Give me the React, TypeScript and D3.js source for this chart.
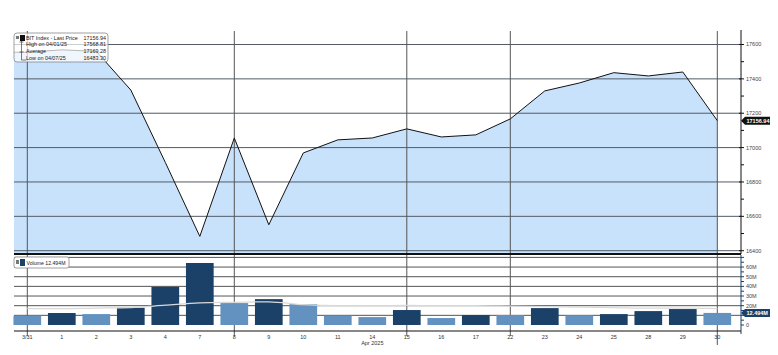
import * as d3 from 'd3';

// trading days shown on the x axis (April 2025)
const days = ['3/31', '1', '2', '3', '4', '7', '8', '9', '10', '11', '14', '15', '16', '17', '22', '23', '24', '25', '28', '29', '30'];
const gridDays = ['3/31', '8', '15', '22', '30'];

// BIT Index last price
const prices = [17555, 17568.81, 17560, 17335, 16914, 16483.3, 17056, 16551, 16969, 17045, 17056, 17109, 17062, 17074, 17167, 17330, 17376, 17436, 17417, 17440, 17156.94];

// volume in millions, bar shade flag (1 = dark), and moving average
const volumes = [9.6, 12.4, 11.3, 17.9, 39.5, 64.2, 22.7, 26.8, 21.6, 9.6, 8.2, 15.5, 7.2, 10.3, 10.3, 17.5, 10.0, 11.3, 14.4, 16.5, 12.494];
const volDark = [0, 1, 0, 1, 1, 1, 0, 1, 0, 0, 0, 1, 0, 1, 0, 1, 0, 1, 1, 1, 0];
const volAvg = [17, 17, 17.5, 18, 20.5, 23, 23.5, 24, 21, 20, 20, 20.3, 20, 20, 19.5, 19, 18.5, 18, 17.5, 17.5, 17];

const priceTicks = [16400, 16600, 16800, 17000, 17200, 17400, 17600];
const priceMinor = d3.range(16400, 17601, 100);
const volTicks = [0, 10, 20, 30, 40, 50, 60, 70];
// 10M sits behind the last-volume tag, so no label there
const volLabels = ['0', '', '20M', '30M', '40M', '50M', '60M', ''];

const legendRows = [
  { label: 'BIT Index - Last Price', value: '17156.94' },
  { label: 'High on 04/01/25', value: '17568.81' },
  { label: 'Average', value: '17169.28' },
  { label: 'Low on 04/07/25', value: '16483.30' },
];

const W = 778;
const H = 355;
const left = 14;
const right = 741;
const top = 30;
const priceBottom = 254;
const volTop = 255;
const axisY = 331;
const font = '"Liberation Sans", Arial, sans-serif';

const DARK = '#1b4168';
const LIGHT = '#6392c0';

export default function App() {
  const x = d3.scalePoint<string>().domain(days).range([27.3, 717.3]);
  const y = d3.scaleLinear().domain([16400, 17600]).range([250.7, 44.5]);
  const yv = d3.scaleLinear().domain([0, 70]).range([325, 257.4]);
  const barW = 27.7;

  const pts: [number, number][] = [[left, y(prices[0])], ...prices.map((p, i) => [x(days[i])!, y(p)] as [number, number])];
  const line = d3.line<[number, number]>()(pts)!;
  const area = d3.area<[number, number]>().x(d => d[0]).y0(priceBottom).y1(d => d[1])(pts)!;
  const avgLine = d3.line<number>().x((_, i) => x(days[i])!).y(d => yv(d)).curve(d3.curveMonotoneX)(volAvg)!;

  const last = prices[prices.length - 1];
  const lastVol = volumes[volumes.length - 1];

  return (
    <svg width={W} height={H} style={{ position: 'absolute', left: 0, top: 0, fontFamily: font }}>
      <rect width={W} height={H} fill="#fff" />

      {/* price panel */}
      <path d={area} fill="#c9e2fc" />
      {priceTicks.map(t => (
        <line key={t} x1={left} x2={right} y1={y(t)} y2={y(t)} stroke="#515b66" strokeWidth={1} />
      ))}

      {/* volume panel grid */}
      {volTicks.slice(1).map(t => (
        <line key={t} x1={left} x2={right} y1={yv(t)} y2={yv(t)} stroke="#555" strokeWidth={1} />
      ))}

      {/* vertical grid */}
      {gridDays.map(d => (
        <line key={d} x1={x(d)} x2={x(d)} y1={top + 1} y2={d === '30' ? 345 : 336} stroke="#555" strokeWidth={1} />
      ))}

      {/* volume bars */}
      {volumes.map((v, i) => (
        <rect key={i} x={x(days[i])! - barW / 2} y={yv(v)} width={barW} height={yv(0) - yv(v)} fill={volDark[i] ? DARK : LIGHT} />
      ))}
      <path d={avgLine} fill="none" stroke="#d9d9d9" strokeWidth={1.3} />

      {/* panel separator */}
      <line x1={left} x2={right} y1={priceBottom} y2={priceBottom} stroke="#111" strokeWidth={2} />

      {/* price line */}
      <path d={line} fill="none" stroke="#111" strokeWidth={1} strokeLinejoin="round" />

      {/* price axis */}
      <line x1={right} x2={right} y1={top} y2={priceBottom} stroke="#111" strokeWidth={1} />
      {priceMinor.map(t => (
        <line key={t} x1={t % 200 === 0 ? 739 : right} x2={744} y1={y(t)} y2={y(t)} stroke="#111" strokeWidth={1} />
      ))}
      {priceTicks.map(t => (
        <text key={t} x={746} y={y(t)} dy="0.35em" fontSize={5.5} fill="#444">{t}</text>
      ))}
      <path d={`M${right},${y(last)} l4,-4 h25 v8 h-25 z`} fill="#111" />
      <text x={746.5} y={y(last)} dy="0.35em" fontSize={5.5} fill="#fff" fontWeight="bold">{last.toFixed(2)}</text>

      {/* volume axis */}
      <line x1={right} x2={right} y1={volTop} y2={axisY + 3} stroke={DARK} strokeWidth={1} />
      {d3.range(0, 71, 5).map(t => (
        <line key={t} x1={right} x2={744} y1={yv(t)} y2={yv(t)} stroke={DARK} strokeWidth={1} />
      ))}
      {volTicks.map((t, i) => volLabels[i] && (
        <text key={t} x={746} y={yv(t)} dy="0.35em" fontSize={5.5} fill="#444">{volLabels[i]}</text>
      ))}
      <path d={`M${right},${yv(lastVol)} l4,-4 h25 v8 h-25 z`} fill={DARK} />
      <text x={746.5} y={yv(lastVol)} dy="0.35em" fontSize={5.5} fill="#fff" fontWeight="bold">{lastVol.toFixed(3)}M</text>

      {/* x axis */}
      <line x1={left} x2={right} y1={axisY} y2={axisY} stroke="#111" strokeWidth={1.2} />
      {days.map(d => (
        <text key={d} x={x(d)} y={339} textAnchor="middle" fontSize={5.5} fill="#333">{d}</text>
      ))}
      <text x={x('14')} y={345} textAnchor="middle" fontSize={5.5} fill="#333">Apr 2025</text>

      {/* price legend */}
      <rect x={left} y={33} width={94} height={29} rx={3} fill="#fff" fillOpacity={0.7} stroke="#888" strokeWidth={0.8} />
      <rect x={16} y={36} width={3} height={3} fill="#777" />
      <rect x={20} y={35} width={5} height={6} fill="#111" />
      <line x1={21.5} x2={21.5} y1={41} y2={60} stroke="#444" strokeWidth={0.7} />
      <line x1={19.5} x2={23.5} y1={42} y2={42} stroke="#444" strokeWidth={0.7} />
      <line x1={19.5} x2={23.5} y1={52} y2={52} stroke="#444" strokeWidth={0.7} />
      <line x1={21.5} x2={26} y1={60} y2={60} stroke="#444" strokeWidth={0.7} />
      {legendRows.map((r, i) => (
        <g key={r.label} fontSize={5.4} fill="#222">
          <text x={26} y={39.5 + i * 6.8}>{r.label}</text>
          <text x={106} y={39.5 + i * 6.8} textAnchor="end">{r.value}</text>
        </g>
      ))}

      {/* volume legend */}
      <rect x={left} y={257} width={55} height={11} rx={2} fill="#fff" stroke="#888" strokeWidth={0.8} />
      <rect x={16} y={260} width={3} height={4} fill="#777" />
      <rect x={20} y={259} width={5} height={7} fill={DARK} />
      <text x={26.5} y={264.5} fontSize={5.2} fill="#222">Volume  {lastVol.toFixed(3)}M</text>
    </svg>
  );
}
